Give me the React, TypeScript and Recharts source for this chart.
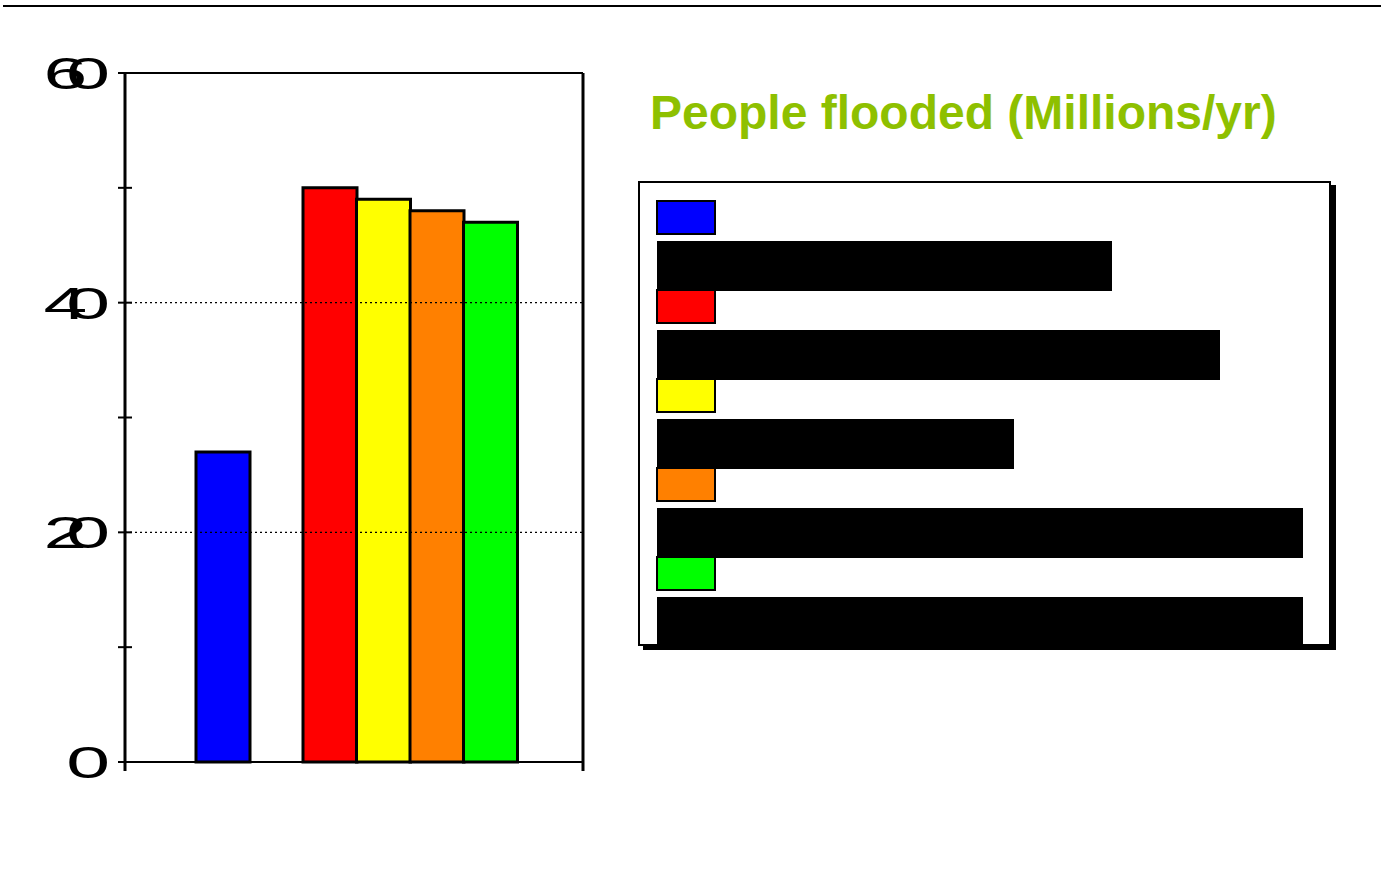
import { Bar, ComposedChart, Cell, Line, ReferenceLine, XAxis, YAxis } from 'recharts';

// scenarios along the x axis; the empty slot leaves a gap after the baseline bar
const scenarios = ['baseline', '', 'a', 'b', 'c', 'd'];
const flooded = [27, null, 50, 49, 48, 47];
const barColors = ['#0000FF', 'transparent', '#FF0000', '#FFFF00', '#FF8000', '#00FF00'];
const yTicks = [0, 10, 20, 30, 40, 50, 60];
const yLabels = [0, 20, 40, 60];
const gridValues = [20, 40];

const legendColors = ['#0000FF', '#FF0000', '#FFFF00', '#FF8000', '#00FF00'];
// label blocks in the key are blacked out
const legendBlockWidths = [455, 563, 357, 646, 646];

const data = scenarios.map((name, i) => ({ name, value: flooded[i] }));

function LeftTick(props: any) {
  const { x, y, payload } = props;
  const v = Number(payload.value);
  return (
    <g>
      <line x1={x - 7} x2={x + 7} y1={y} y2={y} stroke="#000" strokeWidth={2} />
      {v === 0 && <rect x={x - 1.5} y={y} width={3} height={9} fill="#000" />}
      {yLabels.includes(v) && (
        <text
          transform={`translate(${x - 36}, ${y + 16}) scale(1.75, 1)`}
          textAnchor="end"
          fontFamily="Liberation Sans, Arial, sans-serif"
          fontSize={45}
          letterSpacing={-12}
          fill="#000"
        >
          {v}
        </text>
      )}
    </g>
  );
}

// the frame's right edge runs a little below the baseline
function RightTick(props: any) {
  const { x, y, payload } = props;
  if (Number(payload.value) !== 0) return null;
  return <rect x={x - 1.5} y={y} width={3} height={9} fill="#000" />;
}

export default function App() {
  return (
    <div style={{ position: 'absolute', left: 0, top: 0, width: 1381, height: 882, background: '#fff', overflow: 'hidden' }}>
      <div style={{ position: 'absolute', left: 3, top: 5, width: 1378, height: 2, background: '#000' }} />

      <div style={{ position: 'absolute', left: 0, top: 0 }}>
        <ComposedChart width={620} height={800} data={data} margin={{ top: 73, right: 36, left: 124, bottom: 37 }} barCategoryGap={0}>
          {gridValues.map((g) => (
            <ReferenceLine key={g} y={g} stroke="#000" strokeWidth={1.2} strokeDasharray="2 3" />
          ))}
          <ReferenceLine y={60} stroke="#000" strokeWidth={2} />
          <XAxis
            dataKey="name"
            height={1}
            tick={false}
            tickLine={false}
            axisLine={{ stroke: '#000', strokeWidth: 2 }}
            padding={{ left: 71, right: 66 }}
          />
          <YAxis
            domain={[0, 60]}
            ticks={yTicks}
            width={1}
            tickSize={0}
            tickMargin={0}
            tickLine={false}
            interval={0}
            axisLine={{ stroke: '#000', strokeWidth: 3 }}
            tick={<LeftTick />}
          />
          <YAxis
            yAxisId="r"
            orientation="right"
            domain={[0, 60]}
            ticks={[0, 60]}
            interval={0}
            width={1}
            tickSize={0}
            tickMargin={0}
            tickLine={false}
            axisLine={{ stroke: '#000', strokeWidth: 3 }}
            tick={<RightTick />}
          />
          <Bar dataKey="value" stroke="#000" strokeWidth={3} isAnimationActive={false}>
            {data.map((d, i) => (
              <Cell key={i} fill={barColors[i]} />
            ))}
          </Bar>
          <Line yAxisId="r" dataKey="value" stroke="none" dot={false} activeDot={false} isAnimationActive={false} legendType="none" />
        </ComposedChart>
      </div>

      <div
        style={{
          position: 'absolute',
          left: 650,
          top: 83,
          fontFamily: 'Liberation Sans, Arial, sans-serif',
          fontWeight: 'bold',
          fontSize: 48,
          lineHeight: '60px',
          color: '#8EC000',
          whiteSpace: 'nowrap',
        }}
      >
        People flooded (Millions/yr)
      </div>

      <div
        style={{
          position: 'absolute',
          left: 638,
          top: 181,
          width: 689,
          height: 461,
          border: '2px solid #000',
          boxShadow: '5px 4px 0 #000',
          background: '#fff',
        }}
      >
        {legendColors.map((c, i) => (
          <div key={c}>
            <div
              style={{
                position: 'absolute',
                left: 16,
                top: 17 + i * 89,
                width: 56,
                height: 31,
                background: c,
                border: '2px solid #000',
              }}
            />
            <div
              style={{
                position: 'absolute',
                left: 17,
                top: 58 + i * 89,
                width: legendBlockWidths[i],
                height: 50,
                background: '#000',
              }}
            />
          </div>
        ))}
      </div>
    </div>
  );
}
